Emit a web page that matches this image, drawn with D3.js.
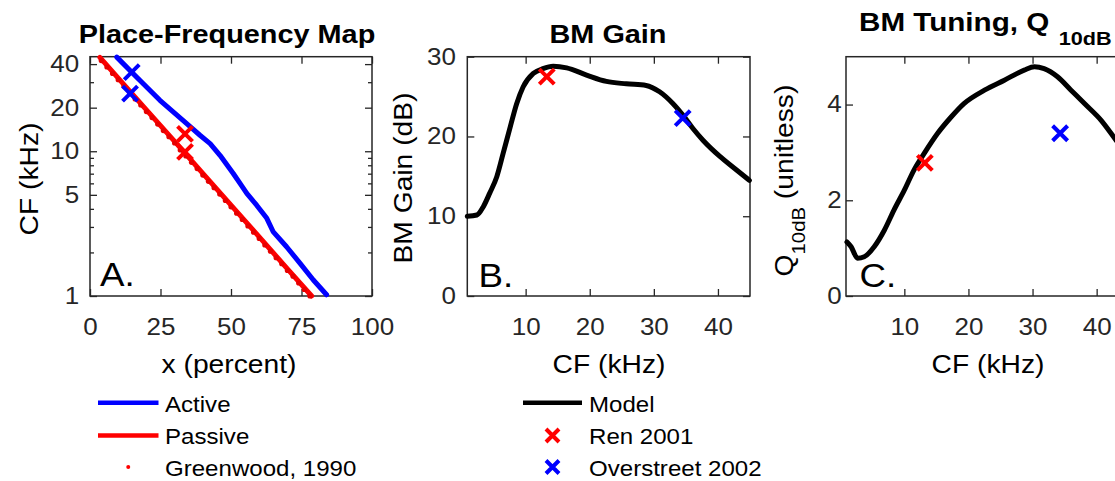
<!DOCTYPE html>
<meta charset="utf-8">
<script src="https://d3js.org/d3.v7.min.js"></script>
<style>
body { margin: 0; background: #fff; }
svg { display: block; font-family: "Liberation Sans", Arial, sans-serif; }
.curve { fill: none; stroke-linejoin: round; stroke-linecap: round; }
</style>
<body>
<svg id="fig" width="1115" height="481"></svg>
<script>
// ---- panel A: place-frequency map (x in percent of length, CF in kHz)
var activeX  = [9.5, 14.8, 18.9, 24.8, 29.5, 34.3, 39.0, 42.6, 46.1, 50.8, 53.2, 55.6, 59.1, 62.7, 65.0, 69.7, 74.5, 79.2, 83.9];
var activeCF = [44.7, 35.2, 29.3, 22.5, 18.7, 15.5, 12.9, 11.3, 9.38, 7.02, 5.99, 5.11, 4.24, 3.44, 2.77, 2.19, 1.68, 1.29, 1.02];
var passiveX  = [3.5, 10, 20, 30, 40, 50, 60, 70, 78.6];
var passiveCF = [44.5, 32.0, 19.3, 11.7, 7.03, 4.24, 2.56, 1.54, 1.0];
var greenX  = [4, 6, 8, 10, 12, 14, 16, 18, 20, 22, 24, 26, 28, 30, 32, 34, 36, 38, 40,
               42, 44, 46, 48, 50, 52, 54, 56, 58, 60, 62, 64, 66, 68, 70, 72, 74, 76, 78];
var greenCF = [42.3, 38.2, 34.5, 31.2, 28.2, 25.5, 23.0, 20.9, 18.8, 17.1, 15.4, 13.9, 12.6, 11.4, 10.2, 9.28, 8.39, 7.59, 6.85,
               6.20, 5.60, 5.06, 4.57, 4.13, 3.73, 3.38, 3.05, 2.76, 2.50, 2.25, 2.04, 1.84, 1.67, 1.50, 1.37, 1.23, 1.11, 1.00];
var renPlaceX  = [33.7, 33.7];
var renPlaceCF = [13.2, 9.9];
var overPlaceX  = [14.8, 14.2];
var overPlaceCF = [35.2, 25.0];

// ---- panel B: BM gain (dB) vs CF (kHz)
var gainCF = [0.9, 2.4, 3.4, 4.4, 5.5, 6.5, 7.6, 8.6, 9.6, 11.2, 12.7, 14.3, 16.4, 19.5, 22.6, 25.7, 28.8, 30.9, 33.0, 34.5, 36.1, 37.7, 40.3, 42.9, 44.9];
var gainDB = [10.0, 10.15, 11.2, 12.9, 14.95, 17.9, 21.2, 24.1, 26.2, 27.9, 28.5, 28.8, 28.6, 27.7, 26.9, 26.6, 26.4, 25.6, 24.1, 22.7, 21.0, 19.5, 17.5, 15.8, 14.5];
var renGain  = [13.3, 27.5];
var overGain = [34.5, 22.3];

// ---- panel C: Q10dB vs CF (kHz)
var qCF  = [1.05, 1.7, 2.7, 3.75, 5.3, 6.9, 8.4, 10.0, 11.5, 13.1, 15.2, 17.3, 19.3, 22.5, 25.6, 28.7, 30.3, 31.8, 33.9, 36.0, 38.1, 40.7, 43.0, 45.0];
var qVal = [1.13, 1.03, 0.79, 0.82, 1.03, 1.38, 1.80, 2.21, 2.63, 2.98, 3.40, 3.74, 4.02, 4.30, 4.51, 4.72, 4.79, 4.75, 4.58, 4.30, 4.02, 3.67, 3.26, 2.9];
var renQ  = [13.2, 2.78];
var overQ = [34.3, 3.40];

// tick labels
var ticksAx = [0, 25, 50, 75, 100];
var ticksAy = [1, 5, 10, 20, 40];
var minorAy = [2, 3, 4, 6, 7, 8, 9, 30];
var ticksBx = [10, 20, 30, 40];
var ticksBy = [0, 10, 20, 30];
var ticksCx = [10, 20, 30, 40];
var ticksCy = [0, 2, 4];

var SX = 1.13;            // the original text is drawn a bit wide
var axisColor = '#262626';
var axTop = 56.7, axBot = 296, axW = 282.7;

var svg = d3.select('#fig');
svg.append('rect').attr('width', 1115).attr('height', 481).attr('fill', '#fff');

function addText(x, y, str, size, opts) {
    opts = opts || {};
    var t = svg.append('text')
        .attr('transform', 'translate(' + x + ',' + y + ')' + (opts.rotate ? ' rotate(-90)' : '') + ' scale(' + (opts.sx || SX) + ',1)')
        .attr('text-anchor', opts.anchor || 'middle')
        .style('font-size', size + 'px')
        .style('font-weight', opts.bold ? 'bold' : 'normal')
        .attr('fill', opts.color || '#000')
        .text(str);
    return t;
}

function styleAxis(g, pad) {
    g.attr('font-size', null).attr('font-family', null);
    g.select('.domain').remove();
    g.selectAll('line').attr('stroke', axisColor).attr('stroke-width', 1.3);
    g.selectAll('text').attr('fill', axisColor).style('font-size', '23px')
        .attr('transform', 'scale(' + SX + ',1)');
}

function drawAxes(x, y, xt, yt, ypad, minorY) {
    var x0 = x.range()[0], x1 = x.range()[1];
    svg.append('g').attr('transform', 'translate(0,' + axBot + ')')
        .call(d3.axisBottom(x).tickValues(xt).tickSizeInner(-7).tickSizeOuter(0).tickPadding(22.5))
        .call(styleAxis);
    svg.append('g').attr('transform', 'translate(0,' + axTop + ')')
        .call(d3.axisTop(x).tickValues(xt).tickSizeInner(-7).tickSizeOuter(0).tickFormat(''))
        .call(styleAxis);
    svg.append('g').attr('transform', 'translate(' + x0 + ',0)')
        .call(d3.axisLeft(y).tickValues(yt).tickSizeInner(-7).tickSizeOuter(0).tickPadding(ypad).tickFormat(d3.format('d')))
        .call(styleAxis);
    svg.append('g').attr('transform', 'translate(' + x1 + ',0)')
        .call(d3.axisRight(y).tickValues(yt).tickSizeInner(-7).tickSizeOuter(0).tickFormat(''))
        .call(styleAxis);
    if (minorY) {
        svg.append('g').attr('transform', 'translate(' + x0 + ',0)')
            .call(d3.axisLeft(y).tickValues(minorY).tickSizeInner(-4).tickSizeOuter(0).tickFormat(''))
            .call(styleAxis);
        svg.append('g').attr('transform', 'translate(' + x1 + ',0)')
            .call(d3.axisRight(y).tickValues(minorY).tickSizeInner(-4).tickSizeOuter(0).tickFormat(''))
            .call(styleAxis);
    }
    svg.append('rect')
        .attr('x', x0).attr('y', axTop).attr('width', x1 - x0).attr('height', axBot - axTop)
        .attr('fill', 'none').attr('stroke', axisColor).attr('stroke-width', 1.5);
}

function crosses(x, y, xs, ys, color, s) {
    svg.append('g').selectAll('path')
        .data(d3.zip(xs, ys))
        .enter()
        .append('path')
        .attr('d', function(d) {
            var cx = x(d[0]), cy = y(d[1]);
            return 'M' + (cx - s) + ',' + (cy - s) + 'L' + (cx + s) + ',' + (cy + s) +
                   'M' + (cx - s) + ',' + (cy + s) + 'L' + (cx + s) + ',' + (cy - s);
        })
        .attr('stroke', color).attr('stroke-width', 4).attr('fill', 'none');
}

// ---------------- panel A
var xA = d3.scaleLinear().domain([0, 100]).range([90, 90 + axW - 0.7]);
var yA = d3.scaleLog().domain([1, 45]).range([axBot, axTop]);
drawAxes(xA, yA, ticksAx, ticksAy, 9.5, minorAy);

var lineA = d3.line().x(function(d) { return xA(d[0]); }).y(function(d) { return yA(d[1]); });
svg.append('path').datum(d3.zip(activeX, activeCF)).attr('class', 'curve')
    .attr('stroke', '#0000ff').attr('stroke-width', 5).attr('d', lineA);
svg.append('path').datum(d3.zip(passiveX, passiveCF)).attr('class', 'curve')
    .attr('stroke', '#ff0000').attr('stroke-width', 5).attr('d', lineA);
svg.append('g').selectAll('circle')
    .data(d3.zip(greenX, greenCF))
    .enter()
    .append('circle')
    .attr('cx', function(d) { return xA(d[0]); })
    .attr('cy', function(d) { return yA(d[1]); })
    .attr('r', 2.6)
    .attr('fill', '#e60000');
crosses(xA, yA, overPlaceX, overPlaceCF, '#0000ff', 7.5);
crosses(xA, yA, renPlaceX, renPlaceCF, '#ff0000', 7.5);

addText(227, 42.5, 'Place-Frequency Map', 26, {bold: true, sx: 1.11});
addText(229, 373, 'x (percent)', 25);
addText(38, 179, 'CF (kHz)', 25, {rotate: true});
addText(100, 286, 'A.', 34, {anchor: 'start', sx: 1.08});

// ---------------- panel B
var xB = d3.scaleLinear().domain([0.9, 45]).range([467.3, 467.3 + axW]);
var yB = d3.scaleLinear().domain([0, 30]).range([axBot, axTop]);
drawAxes(xB, yB, ticksBx, ticksBy, 10);

var lineB = d3.line().x(function(d) { return xB(d[0]); }).y(function(d) { return yB(d[1]); }).curve(d3.curveMonotoneX);
svg.append('path').datum(d3.zip(gainCF, gainDB)).attr('class', 'curve')
    .attr('stroke', '#000').attr('stroke-width', 5).attr('d', lineB);
crosses(xB, yB, [renGain[0]], [renGain[1]], '#ff0000', 7.5);
crosses(xB, yB, [overGain[0]], [overGain[1]], '#0000ff', 7.5);

addText(608, 42.5, 'BM Gain', 26, {bold: true, sx: 1.11});
addText(609, 373, 'CF (kHz)', 25);
addText(411.5, 178, 'BM Gain (dB)', 25, {rotate: true});
addText(478.5, 286.5, 'B.', 34, {anchor: 'start', sx: 1.08});

// ---------------- panel C (cut off at the right edge, as in the original)
var xC = d3.scaleLinear().domain([0.9, 45]).range([846, 846 + axW]);
var yC = d3.scaleLinear().domain([0, 5]).range([axBot, axTop]);
drawAxes(xC, yC, ticksCx, ticksCy, 3.8);

var lineC = d3.line().x(function(d) { return xC(d[0]); }).y(function(d) { return yC(d[1]); }).curve(d3.curveMonotoneX);
svg.append('path').datum(d3.zip(qCF, qVal)).attr('class', 'curve')
    .attr('stroke', '#000').attr('stroke-width', 5).attr('d', lineC);
crosses(xC, yC, [renQ[0]], [renQ[1]], '#ff0000', 7.5);
crosses(xC, yC, [overQ[0]], [overQ[1]], '#0000ff', 7.5);

var tC = addText(859, 31, 'BM Tuning, Q', 26, {bold: true, anchor: 'start', sx: 1.14});
tC.append('tspan').attr('dy', 14).attr('dx', 3).style('font-size', '19px').text(' 10dB');
addText(988, 373, 'CF (kHz)', 25);
var yl = addText(793, 180.5, 'Q', 25, {rotate: true});
yl.append('tspan').attr('dy', 12).style('font-size', '18px').text('10dB');
yl.append('tspan').attr('dy', -12).text(' (unitless)');
addText(859.5, 286.5, 'C.', 34, {anchor: 'start', sx: 1.08});

// ---------------- legends
var legRows = [402.7, 435.5, 467];
var legLeft = [
    {name: 'Active', type: 'line', color: '#0000ff'},
    {name: 'Passive', type: 'line', color: '#ff0000'},
    {name: 'Greenwood, 1990', type: 'dot', color: '#ff0000'}
];
var legRight = [
    {name: 'Model', type: 'line', color: '#000'},
    {name: 'Ren 2001', type: 'cross', color: '#ff0000'},
    {name: 'Overstreet 2002', type: 'cross', color: '#0000ff'}
];

function legend(items, x0, x1, tx) {
    items.forEach(function(d, i) {
        var y = legRows[i], mid = (x0 + x1) / 2;
        if (d.type === 'line') {
            svg.append('line').attr('x1', x0).attr('x2', x1).attr('y1', y).attr('y2', y)
                .attr('stroke', d.color).attr('stroke-width', 4.5);
        } else if (d.type === 'dot') {
            svg.append('circle').attr('cx', mid).attr('cy', y).attr('r', 2).attr('fill', d.color);
        } else {
            var s = 6.5;
            svg.append('path')
                .attr('d', 'M' + (mid - s) + ',' + (y - s) + 'L' + (mid + s) + ',' + (y + s) +
                           'M' + (mid - s) + ',' + (y + s) + 'L' + (mid + s) + ',' + (y - s))
                .attr('stroke', d.color).attr('stroke-width', 4).attr('fill', 'none');
        }
        addText(tx, y + 8.8, d.name, 21.5, {anchor: 'start', sx: 1.12});
    });
}
legend(legLeft, 98, 158.5, 165);
legend(legRight, 523, 582, 589);
</script>
</body>
</html>
